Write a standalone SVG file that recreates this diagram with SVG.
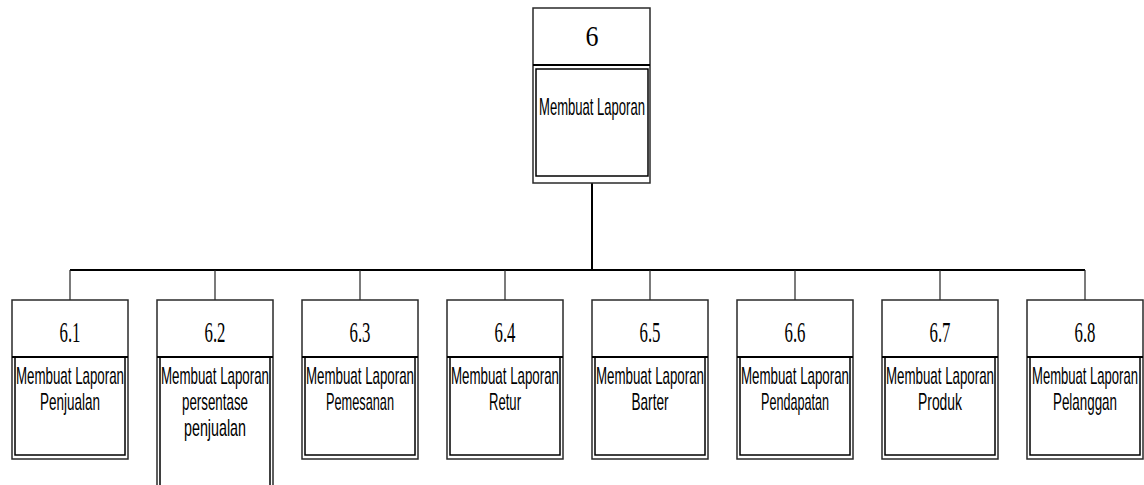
<svg xmlns="http://www.w3.org/2000/svg" width="1144" height="485" viewBox="0 0 1144 485">
  <defs>
    <style>
      .frame { fill: #fff; stroke: #2a2a2a; stroke-width: 1.5; }
      .inner { fill: none; stroke: #000; stroke-width: 1.5; }
      .divider { stroke: #000; stroke-width: 2; }
      .num { font-family: "Liberation Serif", serif; font-size: 29px; fill: #000; text-anchor: middle; }
      .lbl { font-family: "Liberation Sans", Arial, sans-serif; font-size: 24px; fill: #000; text-anchor: middle; }
      .trunk { stroke: #000; stroke-width: 2; fill: none; }
      .branch { stroke: #222; stroke-width: 1.2; fill: none; }
    </style>
  </defs>
  <rect width="1144" height="485" fill="#fff"/>

  <!-- connectors -->
  <g id="connectors">
    <line class="trunk" x1="592" y1="183" x2="592" y2="270"/>
    <line class="trunk" x1="70" y1="270" x2="1085" y2="270"/>
    <line class="branch" x1="70" y1="270" x2="70" y2="300"/>
    <line class="branch" x1="215" y1="270" x2="215" y2="300"/>
    <line class="branch" x1="360" y1="270" x2="360" y2="300"/>
    <line class="branch" x1="505" y1="270" x2="505" y2="300"/>
    <line class="branch" x1="650" y1="270" x2="650" y2="300"/>
    <line class="branch" x1="795" y1="270" x2="795" y2="300"/>
    <line class="branch" x1="940" y1="270" x2="940" y2="300"/>
    <line class="branch" x1="1085" y1="270" x2="1085" y2="300"/>
  </g>

  <!-- root process -->
  <g id="node-6">
    <rect class="frame" x="533" y="8" width="117" height="175"/>
    <line class="divider" x1="533" y1="65" x2="650" y2="65"/>
    <rect class="inner" x="536" y="69" width="112" height="107"/>
    <text class="num" x="592" y="46" textLength="13" lengthAdjust="spacingAndGlyphs">6</text>
    <text class="lbl" x="592" y="115" textLength="106" lengthAdjust="spacingAndGlyphs">Membuat Laporan</text>
  </g>

  <g id="node-6-1">
    <rect class="frame" x="12" y="300" width="116" height="159"/>
    <line class="divider" x1="12" y1="357" x2="128" y2="357"/>
    <rect class="inner" x="15" y="357" width="110" height="98"/>
    <text class="num" x="70" y="342" textLength="21" lengthAdjust="spacingAndGlyphs">6.1</text>
    <text class="lbl" x="70" y="384" textLength="108" lengthAdjust="spacingAndGlyphs">Membuat Laporan</text>
    <text class="lbl" x="70" y="410" textLength="60" lengthAdjust="spacingAndGlyphs">Penjualan</text>
  </g>

  <g id="node-6-2">
    <rect class="frame" x="157" y="300" width="116" height="195"/>
    <line class="divider" x1="157" y1="357" x2="273" y2="357"/>
    <rect class="inner" x="160" y="357" width="110" height="130"/>
    <text class="num" x="215" y="342" textLength="21" lengthAdjust="spacingAndGlyphs">6.2</text>
    <text class="lbl" x="215" y="384" textLength="108" lengthAdjust="spacingAndGlyphs">Membuat Laporan</text>
    <text class="lbl" x="215" y="410" textLength="66" lengthAdjust="spacingAndGlyphs">persentase</text>
    <text class="lbl" x="215" y="436" textLength="62" lengthAdjust="spacingAndGlyphs">penjualan</text>
  </g>

  <g id="node-6-3">
    <rect class="frame" x="302" y="300" width="116" height="159"/>
    <line class="divider" x1="302" y1="357" x2="418" y2="357"/>
    <rect class="inner" x="305" y="357" width="110" height="98"/>
    <text class="num" x="360" y="342" textLength="21" lengthAdjust="spacingAndGlyphs">6.3</text>
    <text class="lbl" x="360" y="384" textLength="108" lengthAdjust="spacingAndGlyphs">Membuat Laporan</text>
    <text class="lbl" x="360" y="410" textLength="68" lengthAdjust="spacingAndGlyphs">Pemesanan</text>
  </g>

  <g id="node-6-4">
    <rect class="frame" x="447" y="300" width="116" height="159"/>
    <line class="divider" x1="447" y1="357" x2="563" y2="357"/>
    <rect class="inner" x="450" y="357" width="110" height="98"/>
    <text class="num" x="505" y="342" textLength="21" lengthAdjust="spacingAndGlyphs">6.4</text>
    <text class="lbl" x="505" y="384" textLength="108" lengthAdjust="spacingAndGlyphs">Membuat Laporan</text>
    <text class="lbl" x="505" y="410" textLength="32" lengthAdjust="spacingAndGlyphs">Retur</text>
  </g>

  <g id="node-6-5">
    <rect class="frame" x="592" y="300" width="116" height="159"/>
    <line class="divider" x1="592" y1="357" x2="708" y2="357"/>
    <rect class="inner" x="595" y="357" width="110" height="98"/>
    <text class="num" x="650" y="342" textLength="21" lengthAdjust="spacingAndGlyphs">6.5</text>
    <text class="lbl" x="650" y="384" textLength="108" lengthAdjust="spacingAndGlyphs">Membuat Laporan</text>
    <text class="lbl" x="650" y="410" textLength="37" lengthAdjust="spacingAndGlyphs">Barter</text>
  </g>

  <g id="node-6-6">
    <rect class="frame" x="737" y="300" width="116" height="159"/>
    <line class="divider" x1="737" y1="357" x2="853" y2="357"/>
    <rect class="inner" x="740" y="357" width="110" height="98"/>
    <text class="num" x="795" y="342" textLength="21" lengthAdjust="spacingAndGlyphs">6.6</text>
    <text class="lbl" x="795" y="384" textLength="108" lengthAdjust="spacingAndGlyphs">Membuat Laporan</text>
    <text class="lbl" x="795" y="410" textLength="68" lengthAdjust="spacingAndGlyphs">Pendapatan</text>
  </g>

  <g id="node-6-7">
    <rect class="frame" x="882" y="300" width="116" height="159"/>
    <line class="divider" x1="882" y1="357" x2="998" y2="357"/>
    <rect class="inner" x="885" y="357" width="110" height="98"/>
    <text class="num" x="940" y="342" textLength="21" lengthAdjust="spacingAndGlyphs">6.7</text>
    <text class="lbl" x="940" y="384" textLength="108" lengthAdjust="spacingAndGlyphs">Membuat Laporan</text>
    <text class="lbl" x="940" y="410" textLength="44" lengthAdjust="spacingAndGlyphs">Produk</text>
  </g>

  <g id="node-6-8">
    <rect class="frame" x="1027" y="300" width="116" height="159"/>
    <line class="divider" x1="1027" y1="357" x2="1143" y2="357"/>
    <rect class="inner" x="1030" y="357" width="110" height="98"/>
    <text class="num" x="1085" y="342" textLength="21" lengthAdjust="spacingAndGlyphs">6.8</text>
    <text class="lbl" x="1085" y="384" textLength="106" lengthAdjust="spacingAndGlyphs">Membuat Laporan</text>
    <text class="lbl" x="1085" y="410" textLength="64" lengthAdjust="spacingAndGlyphs">Pelanggan</text>
  </g>
</svg>
